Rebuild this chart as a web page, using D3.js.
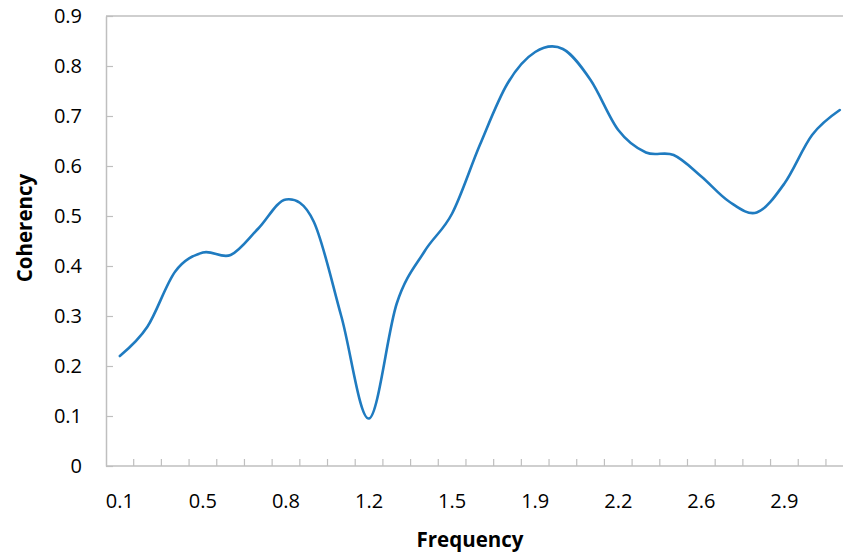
<!DOCTYPE html>
<html>
<head>
<meta charset="utf-8">
<script src="https://cdn.jsdelivr.net/npm/d3@7"></script>
<style>
  body { margin: 0; background: #fff; }
  svg { display: block; }
  .tick-label { font-family: "Open Sans", "Noto Sans", sans-serif; font-size: 20px; fill: #000; }
  .axis-title { font-family: "Open Sans", "Noto Sans", sans-serif; font-size: 20.5px; font-weight: bold; fill: #000; }
</style>
</head>
<body>
<svg id="chart" width="843" height="554"></svg>
<script>
// data
const frequencies = [0.10, 0.22, 0.33, 0.46, 0.57, 0.69, 0.80, 0.92, 1.04, 1.16, 1.27, 1.39, 1.51, 1.62,
                     1.74, 1.86, 1.97, 2.09, 2.21, 2.33, 2.44, 2.56, 2.68, 2.79, 2.91, 3.03, 3.15];
const coherency = [0.220, 0.279, 0.389, 0.427, 0.422, 0.475, 0.533, 0.489, 0.299, 0.095, 0.325, 0.429, 0.505, 0.642,
                   0.765, 0.828, 0.834, 0.772, 0.672, 0.627, 0.622, 0.579, 0.529, 0.507, 0.565, 0.662, 0.712];
const yTicks = [0, 0.1, 0.2, 0.3, 0.4, 0.5, 0.6, 0.7, 0.8, 0.9];
const labelEvery = 3;

const svg = d3.select("#chart");

const plotLeft = 106, plotTop = 16, plotBottom = 466;
const step = 27.69;
const plotRight = plotLeft + step * frequencies.length; // runs past the right edge, like the original crop

const x = d3.scaleBand()
  .domain(d3.range(frequencies.length))
  .range([plotLeft, plotRight])
  .paddingInner(0)
  .paddingOuter(0);

const y = d3.scaleLinear()
  .domain([0, 0.9])
  .range([plotBottom, plotTop]);

const axisColor = "#bfbfbf";

// top border of plot area
svg.append("line")
  .attr("x1", plotLeft).attr("x2", plotRight)
  .attr("y1", plotTop).attr("y2", plotTop)
  .attr("stroke", axisColor).attr("stroke-width", 1.5);

// y axis, ticks pointing inward
const yAxis = d3.axisLeft(y)
  .tickValues(yTicks)
  .tickSizeInner(-7)
  .tickSizeOuter(0)
  .tickPadding(24)
  .tickFormat(d => d === 0 ? "0" : d3.format(".1f")(d));

const yAxisG = svg.append("g")
  .attr("transform", `translate(${plotLeft},0)`)
  .call(yAxis);
yAxisG.select(".domain").attr("stroke", axisColor).attr("stroke-width", 1.5);
yAxisG.selectAll(".tick line").attr("stroke", axisColor).attr("stroke-width", 1.2);
yAxisG.selectAll(".tick text").attr("class", "tick-label");
yAxisG.attr("font-family", null).attr("font-size", null);

// x axis: labels at category centers, every third category
const xAxis = d3.axisBottom(x)
  .tickValues(d3.range(0, frequencies.length, labelEvery))
  .tickSize(0)
  .tickPadding(28)
  .tickFormat(i => d3.format(".1f")(frequencies[i]));

const xAxisG = svg.append("g")
  .attr("transform", `translate(0,${plotBottom})`)
  .call(xAxis);
xAxisG.select(".domain").remove();
xAxisG.selectAll(".tick text").attr("class", "tick-label");
xAxisG.attr("font-family", null).attr("font-size", null);

// x axis line and category boundary ticks
svg.append("line")
  .attr("x1", plotLeft).attr("x2", plotRight)
  .attr("y1", plotBottom).attr("y2", plotBottom)
  .attr("stroke", axisColor).attr("stroke-width", 1.5);

svg.append("g").selectAll("line")
  .data(d3.range(1, frequencies.length + 1))
  .enter().append("line")
  .attr("x1", i => x(0) + i * x.step())
  .attr("x2", i => x(0) + i * x.step())
  .attr("y1", plotBottom)
  .attr("y2", plotBottom - 7)
  .attr("stroke", axisColor)
  .attr("stroke-width", 1.2);

// the smoothed line
const line = d3.line()
  .x((d, i) => x(i) + x.bandwidth() / 2)
  .y(d => y(d))
  .curve(d3.curveCardinal.tension(0));

svg.append("path")
  .datum(coherency)
  .attr("fill", "none")
  .attr("stroke", "#1f7bc0")
  .attr("stroke-width", 2.6)
  .attr("stroke-linejoin", "round")
  .attr("stroke-linecap", "round")
  .attr("d", line);

// axis titles
svg.append("text")
  .attr("class", "axis-title")
  .attr("x", 470)
  .attr("y", 547)
  .attr("text-anchor", "middle")
  .text("Frequency");

svg.append("text")
  .attr("class", "axis-title")
  .attr("transform", "translate(32,228) rotate(-90)")
  .attr("text-anchor", "middle")
  .text("Coherency");
</script>
</body>
</html>
